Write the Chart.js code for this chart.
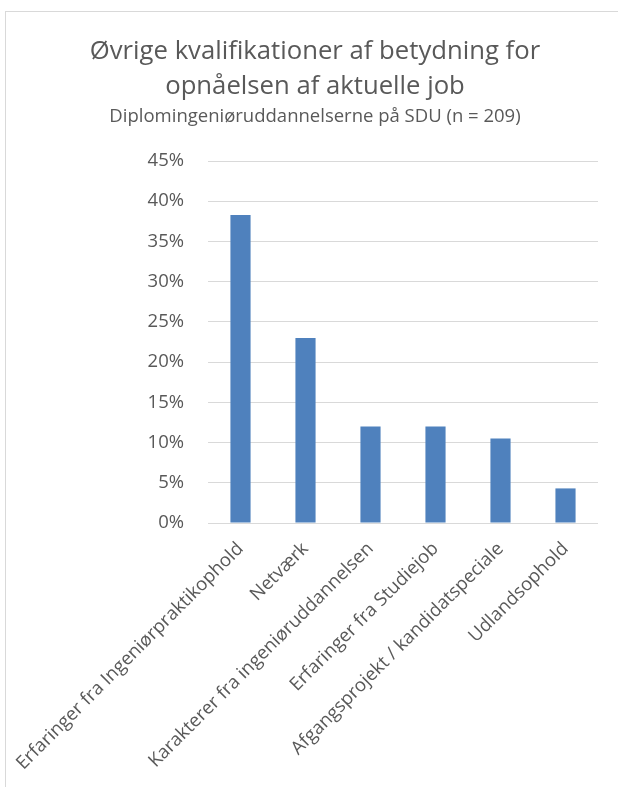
<!DOCTYPE html>
<html>
<head>
<meta charset="utf-8">
<script src="https://cdn.jsdelivr.net/npm/chart.js@4"></script>
<style>
    body { margin: 0; background: #fff; overflow: hidden; }
    #frame { position: absolute; left: 5px; top: 11px; width: 700px; height: 900px; border: 1px solid #d9d9d9; }
    #chart { position: absolute; left: 0; top: 0; }
</style>
</head>
<body>
<div id="frame"></div>
<canvas id="chart" width="618" height="787"></canvas>
<script>
// Chart data
const titleLines = ["Øvrige kvalifikationer af betydning for", "opnåelsen af aktuelle job"];
const subtitleText = "Diplomingeniøruddannelserne på SDU (n = 209)";
const categories = [
    "Erfaringer fra Ingeniørpraktikophold",
    "Netværk",
    "Karakterer fra ingeniøruddannelsen",
    "Erfaringer fra Studiejob",
    "Afgangsprojekt / kandidatspeciale",
    "Udlandsophold"
];
const shares = [38.3, 23.0, 12.0, 12.0, 10.5, 4.3];
const yTicks = [0, 5, 10, 15, 20, 25, 30, 35, 40, 45];

const textColor = "#595959";
const fontFamily = "'Open Sans', sans-serif";

let ctx = document.getElementById("chart").getContext("2d");
let chart = new Chart(ctx, {
    type: "bar",
    data: {
        labels: categories,
        datasets: [{
            data: shares,
            backgroundColor: "#4f81bd",
            barPercentage: 0.31,
            categoryPercentage: 1
        }]
    },
    options: {
        responsive: false,
        animation: false,
        // left padding shifts the centred title over to where the original has it
        layout: { padding: { left: 32, right: 20, top: 0, bottom: 0 } },
        plugins: {
            legend: { display: false },
            tooltip: { enabled: false },
            title: {
                display: true,
                text: titleLines,
                color: textColor,
                font: { family: fontFamily, size: 25.7, weight: "normal", lineHeight: 35 / 25.7 },
                padding: { top: 34.5, bottom: 0 }
            },
            subtitle: {
                display: true,
                text: subtitleText,
                color: textColor,
                font: { family: fontFamily, size: 18.5, lineHeight: 1 },
                padding: { top: 2.5, bottom: 35.5 }
            }
        },
        scales: {
            x: {
                grid: { display: false },
                border: { display: false },
                ticks: {
                    color: textColor,
                    font: { family: fontFamily, size: 18.5 },
                    maxRotation: 45,
                    minRotation: 45,
                    padding: 7,
                    autoSkip: false
                },
                afterFit: (scale) => {
                    scale.height = 264;
                    // long rotated labels would otherwise push the plot area right
                    scale.paddingLeft = 0;
                    scale.paddingRight = 0;
                }
            },
            y: {
                min: 0,
                max: 45,
                afterBuildTicks: (scale) => { scale.ticks = yTicks.map(v => ({ value: v })); },
                grid: { color: "#d9d9d9", lineWidth: 1, drawTicks: false },
                border: { display: false },
                ticks: {
                    color: textColor,
                    font: { family: fontFamily, size: 18.5 },
                    padding: 24,
                    callback: (v) => v + "%"
                },
                afterFit: (scale) => { scale.width = 176; }
            }
        }
    }
});
</script>
</body>
</html>
